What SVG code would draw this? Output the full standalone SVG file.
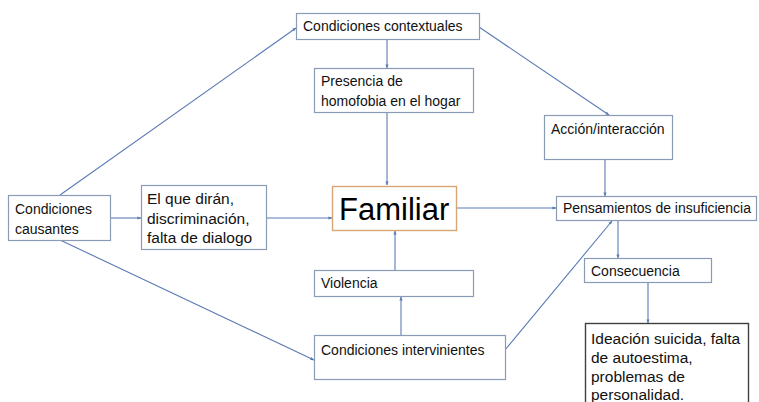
<svg xmlns="http://www.w3.org/2000/svg" width="759" height="402" viewBox="0 0 759 402">
<style>
  .box { fill: #ffffff; stroke: #8a9bb5; stroke-width: 1.2; }
  .fam { fill: #ffffff; stroke: #d9a574; stroke-width: 1.4; }
  .dark { fill: #ffffff; stroke: #404040; stroke-width: 1.4; }
  .t { font-family: "Liberation Sans", Arial, sans-serif; font-size: 14px; fill: #111111; }
  .m { font-size: 15.5px; }
  .big { font-family: "Liberation Sans", Arial, sans-serif; font-size: 31px; fill: #000000; }
  .c { fill: none; stroke: #5b7bb5; stroke-width: 1.1; marker-end: url(#ah); }
</style>
<defs>
  <marker id="ah" viewBox="0 0 10 10" refX="9" refY="5" markerWidth="4" markerHeight="4" orient="auto" markerUnits="userSpaceOnUse">
    <path d="M0,1 L10,5 L0,9 z" fill="#5b7bb5"/>
  </marker>
</defs>
<rect width="759" height="402" fill="#ffffff"/>
<g id="connectors">
  <line class="c" x1="60" y1="195" x2="296" y2="28"/>
  <line class="c" x1="60" y1="240" x2="314" y2="360"/>
  <line class="c" x1="111" y1="218" x2="141" y2="218"/>
  <line class="c" x1="266" y1="218" x2="332" y2="218"/>
  <line class="c" x1="387" y1="40" x2="387" y2="68"/>
  <line class="c" x1="387" y1="113" x2="387" y2="185"/>
  <line class="c" x1="395" y1="270" x2="395" y2="231"/>
  <line class="c" x1="401" y1="335" x2="401" y2="297"/>
  <line class="c" x1="479" y1="27" x2="609" y2="115"/>
  <line class="c" x1="605" y1="160" x2="605" y2="196"/>
  <line class="c" x1="457" y1="208" x2="556" y2="208"/>
  <line class="c" x1="505" y1="350" x2="612" y2="221"/>
  <line class="c" x1="618" y1="221" x2="618" y2="258"/>
  <line class="c" x1="648" y1="282" x2="648" y2="323"/>
</g>
<g id="contextuales">
  <rect class="box" x="296.5" y="13.5" width="183" height="26"/>
  <text class="t" x="303" y="31">Condiciones contextuales</text>
</g>
<g id="presencia">
  <rect class="box" x="314.5" y="68.5" width="159" height="44"/>
  <text class="t" x="321" y="86">Presencia de</text>
  <text class="t" x="321" y="106">homofobia en el hogar</text>
</g>
<g id="causantes">
  <rect class="box" x="8.5" y="195.5" width="102" height="45"/>
  <text class="t" x="15" y="214">Condiciones</text>
  <text class="t" x="15" y="234">causantes</text>
</g>
<g id="elquediran">
  <rect class="box" x="141.5" y="185.5" width="125" height="64"/>
  <text class="t m" x="147" y="204">El que dirán,</text>
  <text class="t m" x="147" y="224">discriminación,</text>
  <text class="t m" x="147" y="243">falta de dialogo</text>
</g>
<g id="familiar">
  <rect class="fam" x="332.5" y="186.5" width="124" height="44"/>
  <text class="big" x="339" y="220">Familiar</text>
</g>
<g id="violencia">
  <rect class="box" x="314.5" y="270.5" width="159" height="26"/>
  <text class="t" x="321" y="288">Violencia</text>
</g>
<g id="intervinientes">
  <rect class="box" x="314.5" y="335.5" width="191" height="44"/>
  <text class="t" x="321" y="355">Condiciones intervinientes</text>
</g>
<g id="accion">
  <rect class="box" x="544.5" y="115.5" width="128" height="44"/>
  <text class="t" x="551" y="134">Acción/interacción</text>
</g>
<g id="pensamientos">
  <rect class="box" x="556.5" y="196.5" width="200" height="24"/>
  <text class="t" x="563" y="213" textLength="188" lengthAdjust="spacingAndGlyphs">Pensamientos de insuficiencia</text>
</g>
<g id="consecuencia">
  <rect class="box" x="584.5" y="258.5" width="127" height="24"/>
  <text class="t" x="591" y="276">Consecuencia</text>
</g>
<g id="ideacion">
  <rect class="dark" x="585.5" y="323.5" width="163" height="90"/>
  <text class="t m" x="591" y="344">Ideación suicida, falta</text>
  <text class="t m" x="591" y="363">de autoestima,</text>
  <text class="t m" x="591" y="382">problemas de</text>
  <text class="t m" x="591" y="400">personalidad.</text>
</g>
</svg>
